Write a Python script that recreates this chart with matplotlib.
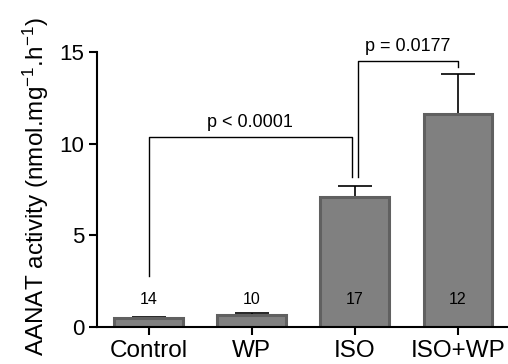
import numpy as np
import matplotlib
matplotlib.use('Agg')
import matplotlib.pyplot as plt

plt.rcParams['font.family'] = ['Liberation Sans', 'DejaVu Sans']
plt.rcParams['mathtext.fontset'] = 'custom'
plt.rcParams['mathtext.rm'] = 'Liberation Sans'
plt.rcParams['mathtext.it'] = 'Liberation Sans:italic'
plt.rcParams['mathtext.bf'] = 'Liberation Sans:bold'

############ data
groups = ['Control', 'WP', 'ISO', 'ISO+WP']
means = [0.50, 0.67, 7.07, 11.6]
sem = [0.05, 0.11, 0.60, 2.2]
n_labels = ['14', '10', '17', '12']

# brackets: (left x, right x, left leg bottom, top, right leg bottom, text)
brackets = [(0.0, 1.97, 2.8, 10.35, 8.2, 'p < 0.0001'),
            (2.03, 3.0, 8.2, 14.5, 14.2, 'p = 0.0177')]

fig = plt.figure(figsize=(5.08, 3.64), dpi=100)
ax = fig.add_axes([0.191, 0.1016, 0.812, 0.755])

x = np.arange(len(groups))
ax.bar(x, means, width=0.667, color='#808080', edgecolor='#606060', linewidth=2.2, zorder=2)
ax.errorbar(x, means, yerr=[np.zeros(len(sem)), sem], fmt='none', ecolor='black',
            elinewidth=1.2, capsize=12, capthick=1.2, zorder=1)

for xi, lab in zip(x, n_labels):
    ax.text(xi, 1.5, lab, ha='center', va='center', fontsize=11.5, zorder=3)

for x1, x2, yb1, yt, yb2, txt in brackets:
    ax.plot([x1, x1, x2, x2], [yb1, yt, yt, yb2], color='black', lw=1.0, zorder=3)
    ax.text((x1 + x2) / 2, yt + 0.35, txt, ha='center', va='bottom', fontsize=13)

ax.set_xlim(-0.5, 3.5)
ax.set_ylim(0, 15)
ax.set_yticks([0, 5, 10, 15])
ax.set_xticks(x)
ax.set_xticklabels(groups)
ax.tick_params(axis='both', width=1.5, length=6, pad=3)
ax.tick_params(axis='y', labelsize=16)
ax.tick_params(axis='x', labelsize=17.5, pad=3.5)
ax.spines['top'].set_visible(False)
ax.spines['right'].set_visible(False)
ax.spines['left'].set_linewidth(1.5)
ax.spines['bottom'].set_linewidth(1.5)
ax.spines['left'].set_bounds(0, 15)

ax.set_ylabel('AANAT activity (nmol.mg$^{-1}$.h$^{-1}$)', fontsize=17.5)
ax.yaxis.set_label_coords(-0.111, 0.51)

fig.savefig('out.png', dpi=100)
